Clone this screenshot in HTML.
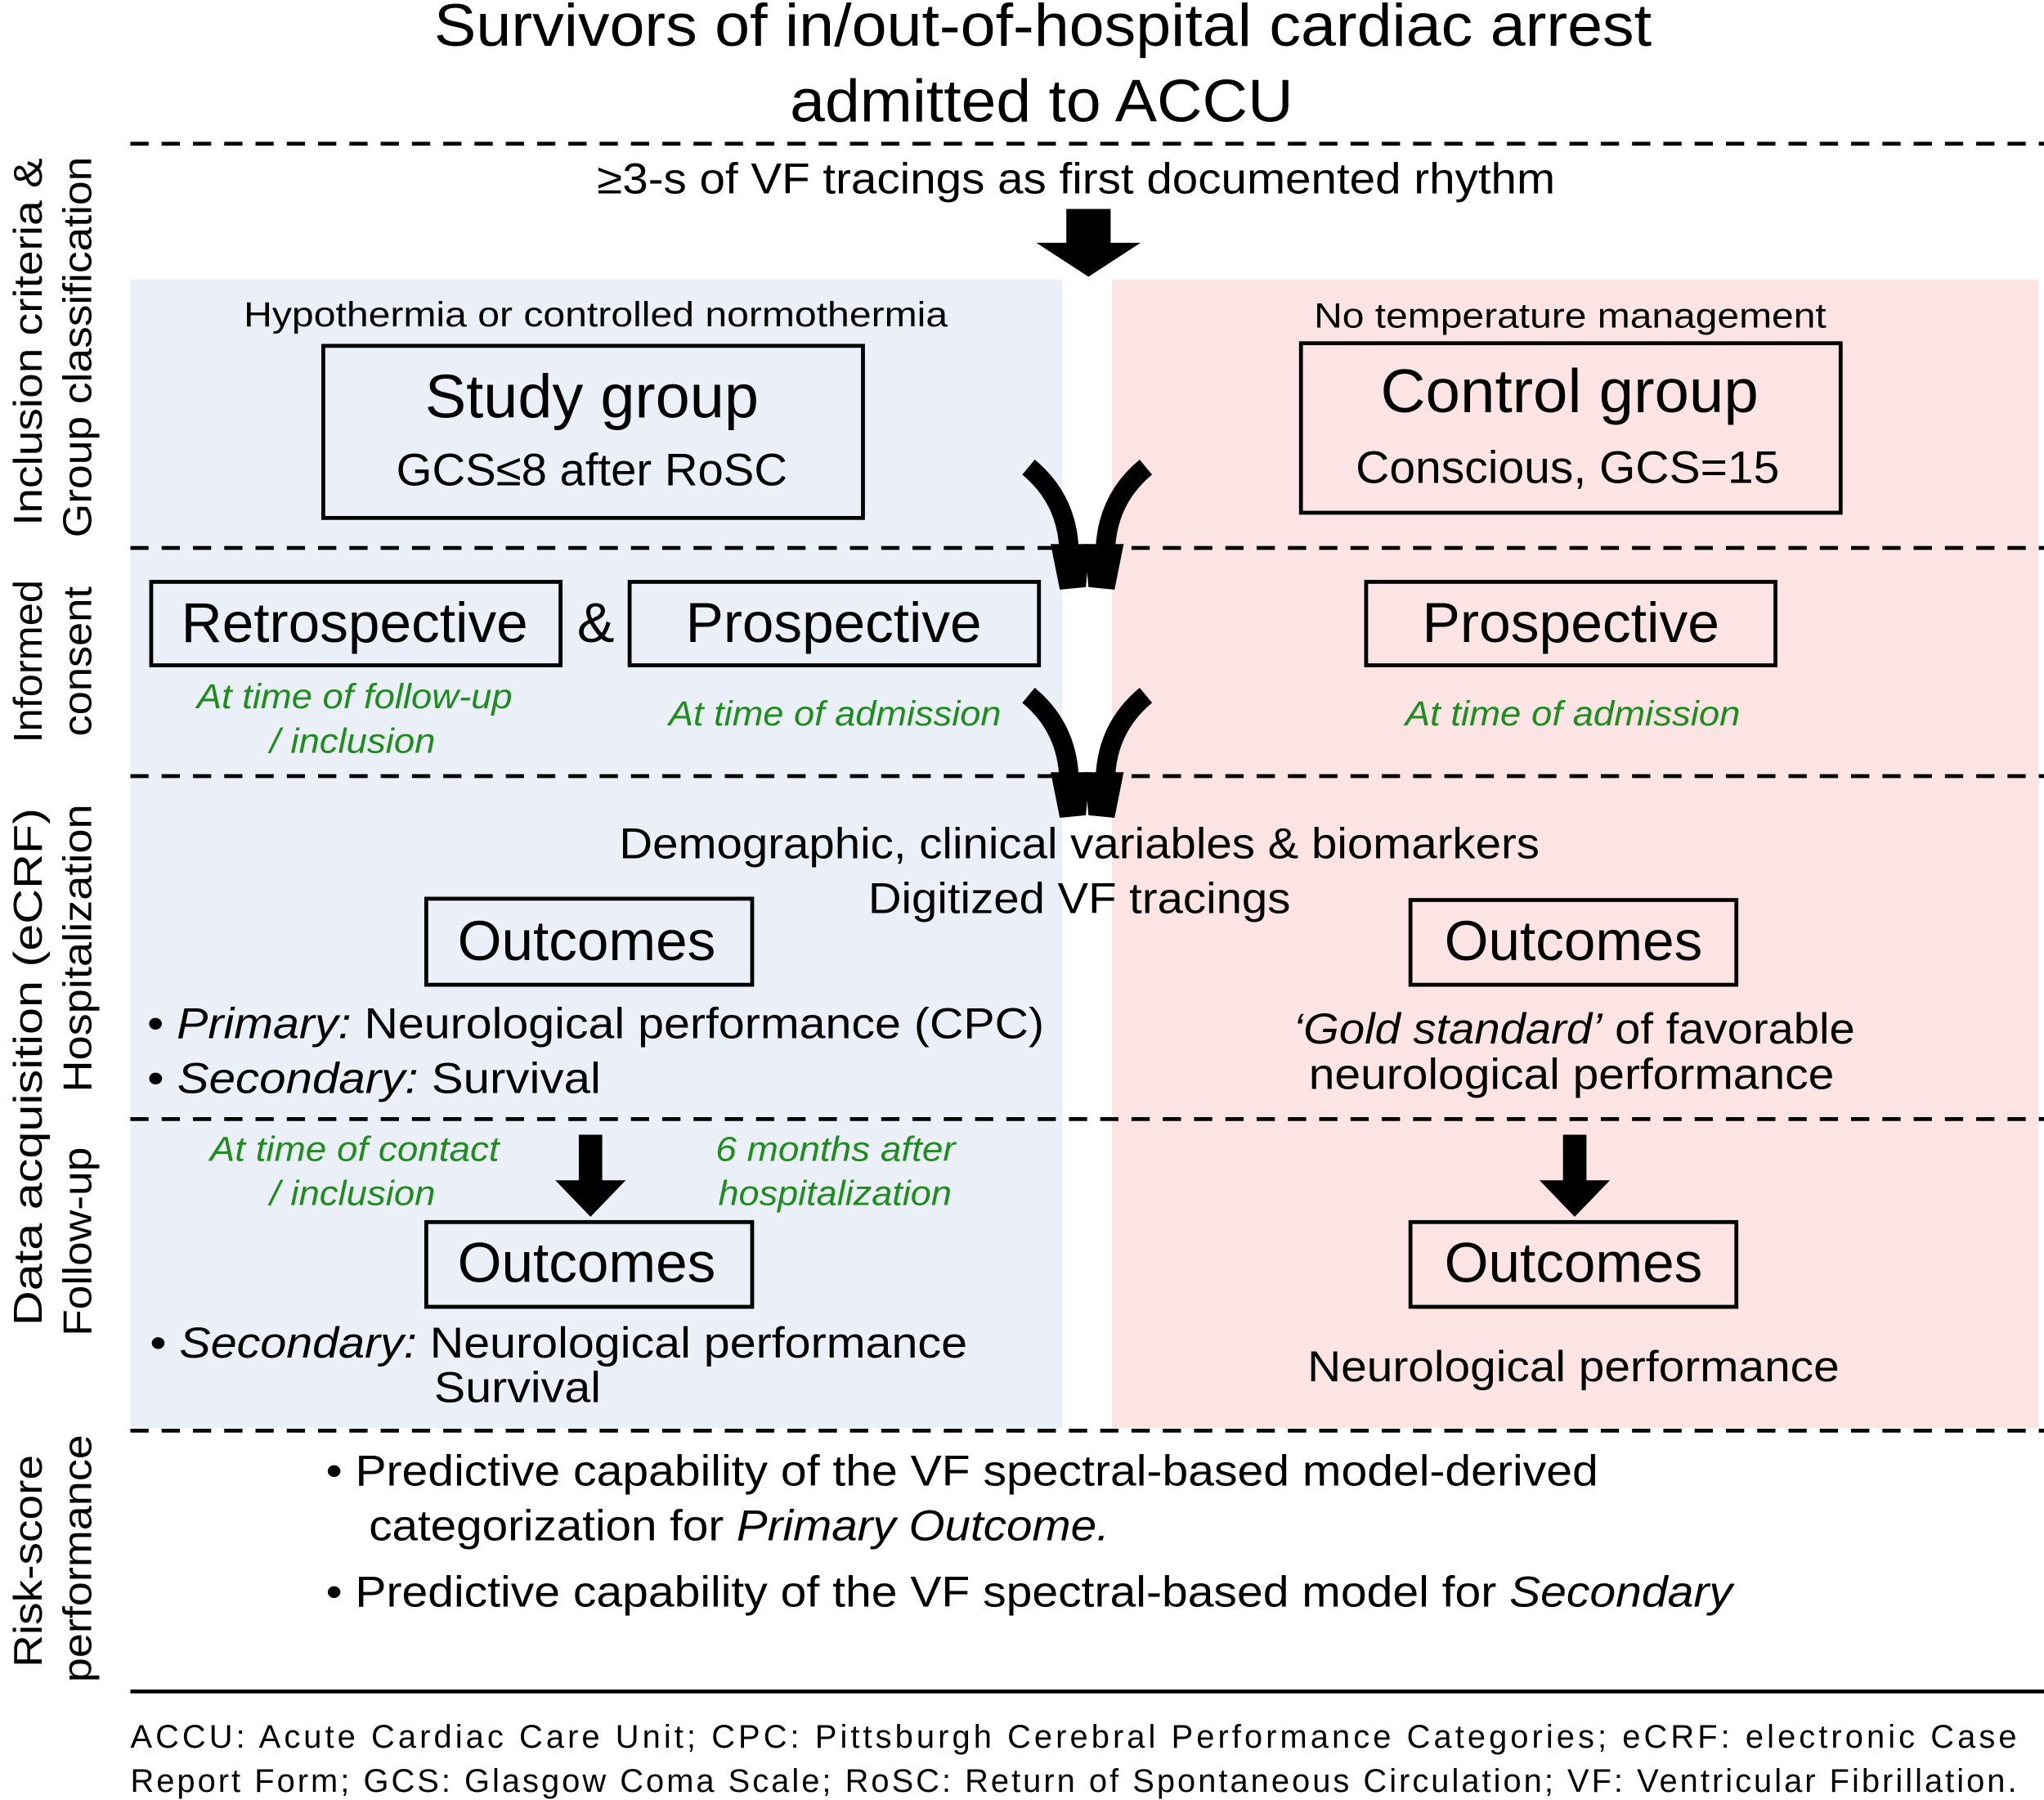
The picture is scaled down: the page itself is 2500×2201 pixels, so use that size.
<!DOCTYPE html>
<html><head><meta charset="utf-8"><style>
html,body{margin:0;padding:0;background:#fff;}
svg{display:block;}
text{font-family:"Liberation Sans",Arial,sans-serif;fill:#000;}
.g{fill:#1e8c1e;font-style:italic;font-size:27px;}
</style></head><body>
<svg width="2500" height="2201" viewBox="0 0 1568 1380" xmlns="http://www.w3.org/2000/svg">
<rect x="0" y="0" width="1568" height="1380" fill="#fff"/>
<rect x="100" y="214" width="715" height="881" fill="#ebf0f8"/>
<rect x="853" y="214" width="711" height="881" fill="#fde4e4"/>
<g lengthAdjust="spacingAndGlyphs">
<text x="333" y="35" font-size="46" textLength="934" lengthAdjust="spacingAndGlyphs">Survivors of in/out-of-hospital  cardiac arrest</text>
<text x="606" y="93" font-size="46" textLength="386" lengthAdjust="spacingAndGlyphs">admitted to ACCU</text>
</g>
<g stroke="#000" stroke-width="3" stroke-dasharray="14,10">
<line x1="100" y1="110" x2="1568" y2="110"/>
<line x1="100" y1="420" x2="1568" y2="420"/>
<line x1="100" y1="595" x2="1568" y2="595"/>
<line x1="100" y1="858" x2="1568" y2="858"/>
<line x1="100" y1="1097" x2="1568" y2="1097"/>
</g>
<line x1="100" y1="1297" x2="1568" y2="1297" stroke="#000" stroke-width="3"/>
<text x="458" y="148" font-size="33" textLength="735" lengthAdjust="spacingAndGlyphs">≥3-s of VF tracings as first documented rhythm</text>
<polygon points="818,160 852,160 852,186 875,186 835,212 795,186 818,186"/>
<text x="187" y="250" font-size="27" textLength="540" lengthAdjust="spacingAndGlyphs">Hypothermia  or controlled  normothermia</text>
<rect x="248" y="265" width="414" height="132" fill="none" stroke="#000" stroke-width="3"/>
<text x="326" y="320" font-size="47" textLength="256" lengthAdjust="spacingAndGlyphs">Study group</text>
<text x="304" y="372" font-size="35" textLength="300" lengthAdjust="spacingAndGlyphs">GCS≤8 after RoSC</text>
<text x="1008" y="251" font-size="27" textLength="393" lengthAdjust="spacingAndGlyphs">No temperature  management</text>
<rect x="998" y="263" width="414" height="130" fill="none" stroke="#000" stroke-width="3"/>
<text x="1059" y="316" font-size="47" textLength="290" lengthAdjust="spacingAndGlyphs">Control  group</text>
<text x="1040" y="370" font-size="35" textLength="325" lengthAdjust="spacingAndGlyphs">Conscious, GCS=15</text>
<g id="arr">
<path d="M789,358 Q818,382 820,420" fill="none" stroke="#000" stroke-width="15"/>
<polygon points="806,417 836,417 833,450 813,452"/>
<path d="M879,358 Q850,382 848,420" fill="none" stroke="#000" stroke-width="15"/>
<polygon points="832,417 862,417 855,452 835,450"/>
</g>
<use href="#arr" transform="translate(0,175)"/>
<rect x="116" y="446" width="314" height="64" fill="none" stroke="#000" stroke-width="3"/>
<text x="139" y="492" font-size="43" textLength="266" lengthAdjust="spacingAndGlyphs">Retrospective</text>
<text x="457" y="492" font-size="43" text-anchor="middle">&amp;</text>
<rect x="483" y="446" width="314" height="64" fill="none" stroke="#000" stroke-width="3"/>
<text x="526" y="492" font-size="43" textLength="227" lengthAdjust="spacingAndGlyphs">Prospective</text>
<rect x="1048" y="446" width="314" height="64" fill="none" stroke="#000" stroke-width="3"/>
<text x="1091" y="492" font-size="43" textLength="228" lengthAdjust="spacingAndGlyphs">Prospective</text>
<text class="g" x="151" y="543" textLength="242" lengthAdjust="spacingAndGlyphs">At time of follow-up</text>
<text class="g" x="207" y="577" textLength="127" lengthAdjust="spacingAndGlyphs">/ inclusion</text>
<text class="g" x="513" y="556" textLength="255" lengthAdjust="spacingAndGlyphs">At time of admission</text>
<text class="g" x="1078" y="556" textLength="257" lengthAdjust="spacingAndGlyphs">At time of admission</text>
<text x="475" y="658" font-size="33" textLength="706" lengthAdjust="spacingAndGlyphs">Demographic, clinical variables &amp; biomarkers</text>
<text x="666" y="700" font-size="33" textLength="324" lengthAdjust="spacingAndGlyphs">Digitized VF tracings</text>
<rect x="327" y="689" width="250" height="66" fill="none" stroke="#000" stroke-width="3"/>
<text x="351" y="736" font-size="43" textLength="198" lengthAdjust="spacingAndGlyphs">Outcomes</text>
<rect x="1082" y="690" width="250" height="65" fill="none" stroke="#000" stroke-width="3"/>
<text x="1108" y="736" font-size="43" textLength="198" lengthAdjust="spacingAndGlyphs">Outcomes</text>
<text x="113" y="796" font-size="33" textLength="688" lengthAdjust="spacingAndGlyphs">•  <tspan font-style="italic">Primary:</tspan> Neurological performance (CPC)</text>
<text x="113" y="838" font-size="33" textLength="348" lengthAdjust="spacingAndGlyphs">•  <tspan font-style="italic">Secondary:</tspan> Survival</text>
<text x="992" y="800" font-size="33" textLength="431" lengthAdjust="spacingAndGlyphs"><tspan font-style="italic">‘Gold standard’</tspan> of favorable</text>
<text x="1004" y="835" font-size="33" textLength="403" lengthAdjust="spacingAndGlyphs">neurological performance</text>
<text class="g" x="161" y="890" textLength="222" lengthAdjust="spacingAndGlyphs">At time of contact</text>
<text class="g" x="207" y="924" textLength="127" lengthAdjust="spacingAndGlyphs">/ inclusion</text>
<text class="g" x="549" y="890" textLength="184" lengthAdjust="spacingAndGlyphs">6 months after</text>
<text class="g" x="551" y="924" textLength="179" lengthAdjust="spacingAndGlyphs">hospitalization</text>
<polygon points="444,870 462,870 462,905 480,905 453,933 426,905 444,905"/>
<polygon points="1199,870 1217,870 1217,905 1235,905 1208,933 1181,905 1199,905"/>
<rect x="327" y="937" width="250" height="65" fill="none" stroke="#000" stroke-width="3"/>
<text x="351" y="983" font-size="43" textLength="198" lengthAdjust="spacingAndGlyphs">Outcomes</text>
<rect x="1082" y="937" width="250" height="65" fill="none" stroke="#000" stroke-width="3"/>
<text x="1108" y="983" font-size="43" textLength="198" lengthAdjust="spacingAndGlyphs">Outcomes</text>
<text x="115" y="1041" font-size="33" textLength="627" lengthAdjust="spacingAndGlyphs">•  <tspan font-style="italic">Secondary:</tspan> Neurological performance</text>
<text x="333" y="1075" font-size="33" textLength="128" lengthAdjust="spacingAndGlyphs">Survival</text>
<text x="1003" y="1059" font-size="33" textLength="408" lengthAdjust="spacingAndGlyphs">Neurological performance</text>
<text x="250" y="1139" font-size="33" textLength="976" lengthAdjust="spacingAndGlyphs">•  Predictive capability of the VF spectral-based model-derived</text>
<text x="283" y="1181" font-size="33" textLength="568" lengthAdjust="spacingAndGlyphs">categorization for <tspan font-style="italic">Primary Outcome.</tspan></text>
<text x="250" y="1232" font-size="33" textLength="1079" lengthAdjust="spacingAndGlyphs">•  Predictive capability of the VF spectral-based model for <tspan font-style="italic">Secondary</tspan></text>
<text x="100" y="1340" font-size="25" textLength="1447" lengthAdjust="spacing">ACCU: Acute Cardiac Care Unit; CPC: Pittsburgh Cerebral Performance Categories; eCRF: electronic Case</text>
<text x="100" y="1374" font-size="25" textLength="1447" lengthAdjust="spacing">Report Form; GCS: Glasgow Coma Scale; RoSC: Return of Spontaneous Circulation; VF: Ventricular Fibrillation.</text>
<g font-size="31" text-anchor="middle">
<text transform="translate(32,262) rotate(-90)" textLength="282" lengthAdjust="spacingAndGlyphs">Inclusion criteria &amp;</text>
<text transform="translate(70,266) rotate(-90)" textLength="292" lengthAdjust="spacingAndGlyphs">Group classification</text>
<text transform="translate(32,507) rotate(-90)" textLength="125" lengthAdjust="spacingAndGlyphs">Informed</text>
<text transform="translate(70,507) rotate(-90)" textLength="115" lengthAdjust="spacingAndGlyphs">consent</text>
<text transform="translate(32,818) rotate(-90)" textLength="397" lengthAdjust="spacingAndGlyphs">Data acquisition (eCRF)</text>
<text transform="translate(70,727) rotate(-90)" textLength="221" lengthAdjust="spacingAndGlyphs">Hospitalization</text>
<text transform="translate(70,952) rotate(-90)" textLength="145" lengthAdjust="spacingAndGlyphs">Follow-up</text>
<text transform="translate(32,1197) rotate(-90)" textLength="163" lengthAdjust="spacingAndGlyphs">Risk-score</text>
<text transform="translate(70,1195) rotate(-90)" textLength="190" lengthAdjust="spacingAndGlyphs">performance</text>
</g>
</svg>
</body></html>
